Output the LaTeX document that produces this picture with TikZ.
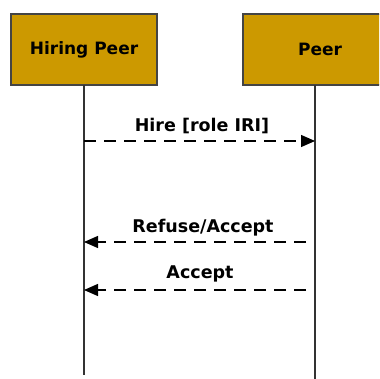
\documentclass[tikz,border=0pt]{standalone}
\usepackage{fontspec}
\setmainfont{DejaVu Sans}
\usetikzlibrary{arrows.meta}
\definecolor{boxfill}{HTML}{CC9900}
\definecolor{boxline}{HTML}{444444}
\definecolor{lifeline}{HTML}{333333}
\begin{document}
\begin{tikzpicture}[x=1pt,y=-1pt,
  actor/.style={draw=boxline,line width=1.4pt,fill=boxfill,minimum height=71pt,inner sep=0pt,font=\bfseries\fontsize{17}{20}\selectfont},
  life/.style={draw=lifeline,line width=1.3pt},
  msg/.style={line width=1.3pt,dash pattern=on 12pt off 8pt,-{Triangle[length=14pt,width=12pt]}},
  msglabel/.style={font=\bfseries\fontsize{17.5}{20}\selectfont,inner sep=0pt,anchor=base}]
\useasboundingbox (0,0) rectangle (379,379);
\clip (0,0) rectangle (379,379);
\fill[white] (0,0) rectangle (379,379);
\node[actor,minimum width=146pt] (hp) at (84,49.5) {Hiring Peer};
\node[actor,minimum width=154pt] (p) at (320,49.5) {Peer};
\coordinate (hpTop) at (84,85);
\coordinate (hpBot) at (84,375);
\coordinate (pTop) at (315,85);
\coordinate (pBot) at (315,381);
\draw[life] (hpTop) -- (hpBot);
\draw[life] (pTop) -- (pBot);
\coordinate (m1s) at (84,141);
\coordinate (m1e) at (315,141);
\coordinate (m2s) at (306,242);
\coordinate (m2e) at (84,242);
\coordinate (m3s) at (306,290);
\coordinate (m3e) at (84,290);
\draw[msg] (m1s) -- (m1e);
\draw[msg] (m2s) -- (m2e);
\draw[msg] (m3s) -- (m3e);
\node[msglabel] (l1) at (202,132) {Hire [role IRI]};
\node[msglabel] (l2) at (203,232) {Refuse/Accept};
\node[msglabel] (l3) at (200,278) {Accept};
\end{tikzpicture}
\end{document}
